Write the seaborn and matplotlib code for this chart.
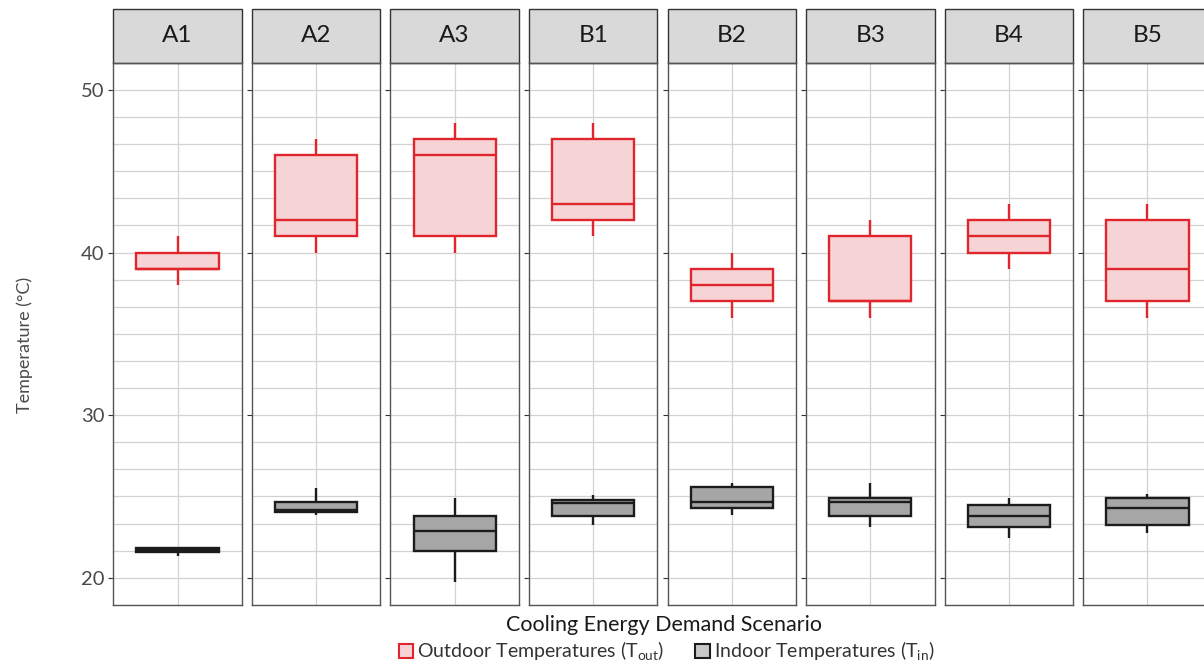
import matplotlib
matplotlib.use("Agg")
import matplotlib.pyplot as plt
import seaborn as sns
import pandas as pd
from matplotlib.patches import Patch, Rectangle
from matplotlib.ticker import MultipleLocator, FixedLocator

# ---------------- data (five-number summaries) -------------
scenarios = ["A1", "A2", "A3", "B1", "B2", "B3", "B4", "B5"]

out_min = [38, 40, 40, 41, 36, 36, 39, 36]
out_q1 = [39, 41, 41, 42, 37, 37, 40, 37]
out_med = [39, 42, 46, 43, 38, 37, 41, 39]
out_q3 = [40, 46, 47, 47, 39, 41, 42, 42]
out_max = [41, 47, 48, 48, 40, 42, 43, 43]

in_min = [21.35, 23.86, 19.75, 23.24, 23.86, 23.14, 22.46, 22.75]
in_q1 = [21.55, 24.04, 21.66, 23.80, 24.31, 23.80, 23.14, 23.24]
in_med = [21.68, 24.17, 22.87, 24.61, 24.64, 24.64, 23.80, 24.27]
in_q3 = [21.80, 24.66, 23.80, 24.78, 25.60, 24.88, 24.47, 24.88]
in_max = [21.90, 25.50, 24.90, 25.09, 25.81, 25.81, 24.88, 25.15]

y_ticks = [20, 30, 40, 50]
series_labels = ["Outdoor Temperatures (T$_{out}$)", "Indoor Temperatures (T$_{in}$)"]

# ---------------- build long table ----------------
rows = []
for i, s in enumerate(scenarios):
    for v in (out_min[i], out_q1[i], out_med[i], out_q3[i], out_max[i]):
        rows.append((s, "Outdoor", v))
    for v in (in_min[i], in_q1[i], in_med[i], in_q3[i], in_max[i]):
        rows.append((s, "Indoor", v))
df = pd.DataFrame(rows, columns=["scenario", "series", "value"])

# ---------------- style ----------------
FONT = "Lato"
plt.rcParams["font.family"] = [FONT, "DejaVu Sans"]
plt.rcParams["mathtext.fontset"] = "custom"
plt.rcParams["mathtext.rm"] = FONT
plt.rcParams["mathtext.default"] = "regular"

red = "#e0262c"
pink = "#f6d4d6"
gray_fill = "#a6a6a6"
dark = "#1c1c1c"
grid_c = "#d2d2d2"
text_c = "#4a4a4a"

W, H = 1204, 664
fig = plt.figure(figsize=(W / 100, H / 100), dpi=100)

left0, step, pw = 113.3, 138.57, 128.4
top, bot = 62.7, 605.0
strip_top = 9.3
strip_h = (top - strip_top) / (bot - top)

for i, s in enumerate(scenarios):
    ax = fig.add_axes([(left0 + i * step) / W, (H - bot) / H, pw / W, (bot - top) / H])
    sub = df[df["scenario"] == s]
    sns.boxplot(data=sub[sub["series"] == "Outdoor"], x="scenario", y="value", ax=ax,
                width=0.64, whis=(0, 100), showcaps=False, color=pink, linecolor=red,
                linewidth=1.7, saturation=1, fliersize=0)
    sns.boxplot(data=sub[sub["series"] == "Indoor"], x="scenario", y="value", ax=ax,
                width=0.64, whis=(0, 100), showcaps=False, color=gray_fill, linecolor=dark,
                linewidth=1.7, saturation=1, fliersize=0)
    ax.set_xlim(-0.5, 0.5)
    ax.set_ylim(18.32, 51.68)
    ax.yaxis.set_major_locator(FixedLocator(y_ticks))
    ax.yaxis.set_minor_locator(MultipleLocator(10 / 6))
    ax.set_axisbelow(True)
    ax.grid(which="both", axis="y", color=grid_c, lw=0.9)
    ax.grid(which="major", axis="x", color=grid_c, lw=0.9)
    ax.tick_params(axis="x", length=0, labelbottom=False)
    ax.tick_params(axis="y", which="major", length=3.5, width=0.8, color="#333333",
                   labelsize=14.5, labelcolor=text_c, pad=3)
    ax.tick_params(axis="y", which="minor", length=0)
    if i > 0:
        ax.tick_params(axis="y", labelleft=False)
    ax.set_xlabel("")
    ax.set_ylabel("")
    for sp in ax.spines.values():
        sp.set_color("#555555")
        sp.set_linewidth(1.0)
    ax.add_patch(Rectangle((0, 1), 1, strip_h, transform=ax.transAxes, clip_on=False,
                           facecolor="#d9d9d9", edgecolor="#333333", lw=1.0))
    ax.text(0.5, 1 + strip_h / 2, s, transform=ax.transAxes, ha="center", va="center",
            fontsize=17.5, color="#1a1a1a")

fig.text(664.5 / W, (H - 625) / H, "Cooling Energy Demand Scenario", ha="center",
         va="center", fontsize=15.5, color="#1a1a1a")
fig.text(25 / W, (H - 345) / H, "Temperature (°C)", ha="center", va="center",
         rotation=90, fontsize=13, color=text_c)

handles = [Patch(facecolor=pink, edgecolor=red, lw=1.5),
           Patch(facecolor="#c8c8c8", edgecolor=dark, lw=1.5)]
fig.legend(handles, series_labels, loc="center", bbox_to_anchor=(666.5 / W, (H - 651) / H),
           ncol=2, frameon=False, handlelength=0.75, handleheight=0.75, handletextpad=0.2,
           columnspacing=1.6, fontsize=14, labelcolor="#333333")

fig.savefig("out.png", dpi=100)
